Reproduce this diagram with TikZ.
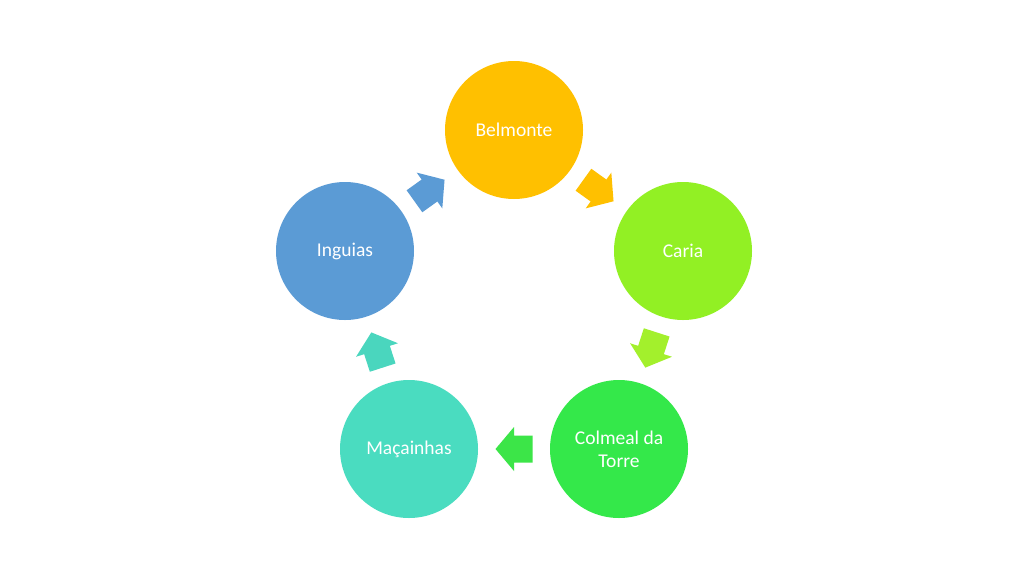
\documentclass[tikz,border=0pt]{standalone}
\usepackage{fontspec}
\setmainfont{Carlito}
\usetikzlibrary{calc}
\definecolor{cBel}{HTML}{FFC000}
\definecolor{cCar}{HTML}{92F024}
\definecolor{cCol}{HTML}{34E84A}
\definecolor{cMac}{HTML}{4ADCC0}
\definecolor{cIng}{HTML}{5B9BD5}
\definecolor{aCar}{HTML}{A3F02C}
\definecolor{aCol}{HTML}{3CE548}
\definecolor{aMac}{HTML}{4AD6BE}
\tikzset{
  town/.style={circle, minimum size=138pt, inner sep=0pt, text=white,
    font=\fontsize{19.5}{23}\selectfont, align=center}
}
\newcommand\blockarrow[3]{%
  \path let \p1=($(#2)-(#1)$), \n1={atan2(\y1,\x1)} in \pgfextra{\xdef\arrang{\n1}};
  \fill[#3, shift={($(#1)!0.5!(#2)$)}, rotate=\arrang]
    (-18.5,-13.5) -- (0,-13.5) -- (0,-22) -- (18.5,0) -- (0,22) -- (0,13.5)
    -- (-18.5,13.5) -- cycle;
}
\begin{document}
\begin{tikzpicture}[x=1pt,y=-1pt]
\useasboundingbox[fill=white] (0,0) rectangle (1030,579);
\node[town, fill=cBel] (bel) at (514,130) {Belmonte};
\node[town, fill=cCar] (car) at (683,251) {Caria};
\node[town, fill=cCol] (col) at (619,449) {Colmeal da\\Torre};
\node[town, fill=cMac] (mac) at (409,449) {Maçainhas};
\node[town, fill=cIng] (ing) at (345,251) {Inguias};
\blockarrow{bel}{car}{cBel}
\blockarrow{car}{col}{aCar}
\blockarrow{col}{mac}{aCol}
\blockarrow{mac}{ing}{aMac}
\blockarrow{ing}{bel}{cIng}
\end{tikzpicture}
\end{document}
